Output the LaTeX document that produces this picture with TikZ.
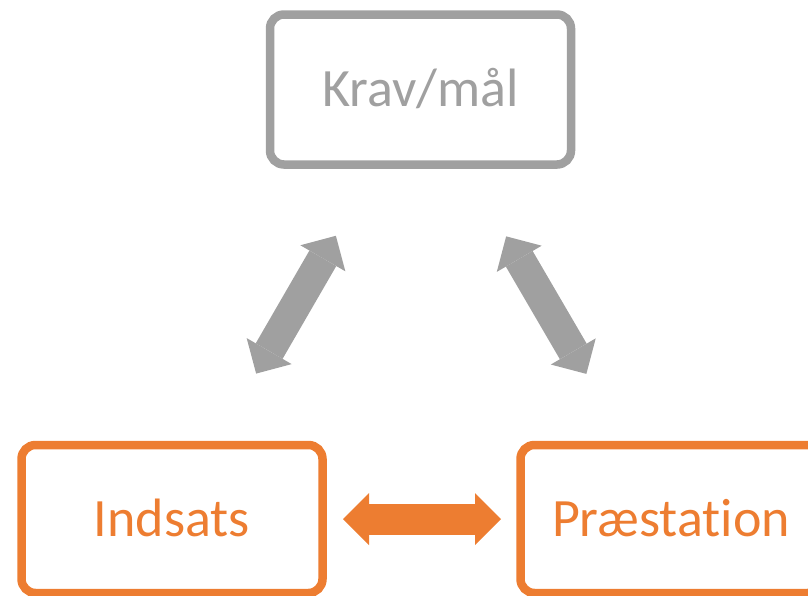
\documentclass[tikz,border=0pt]{standalone}
\usepackage{fontspec}
\setmainfont{Carlito}[Ligatures=NoCommon]
\usepackage{tikz}
\usetikzlibrary{arrows.meta}
\definecolor{graa}{HTML}{A0A0A0}
\definecolor{orange}{HTML}{ED7D31}
\tikzset{
  boks/.style={draw, rounded corners=14pt, line width=8.5pt, minimum width=301pt,
    text height=36pt, text depth=2pt, font=\fontsize{54}{62}\selectfont},
  fed/.style={line width=31pt, {Triangle[length=26pt,width=52pt,line width=0pt 0 0]}-{Triangle[length=26pt,width=52pt,line width=0pt 0 0]}}
}

\begin{document}
\begin{tikzpicture}[x=1pt,y=-1pt]
\useasboundingbox (0,0) rectangle (808,595);
\node[boks, graa, minimum height=150pt] (krav) at (420.5,89.5) {Krav/mål};
\node[boks, orange, minimum height=148pt] (indsats) at (172,519) {Indsats};
\node[boks, orange, minimum height=148pt] (praest) at (671,519) {Præstation};
\draw[fed, graa, shorten <=169pt, shorten >=168pt] (krav.center) to (indsats.center);
\draw[fed, graa, shorten <=170pt, shorten >=168pt] (krav.center) to (praest.center);
\draw[fed, orange, shorten <=171pt, shorten >=170pt] (indsats.center) to (praest.center);
\end{tikzpicture}
\end{document}
